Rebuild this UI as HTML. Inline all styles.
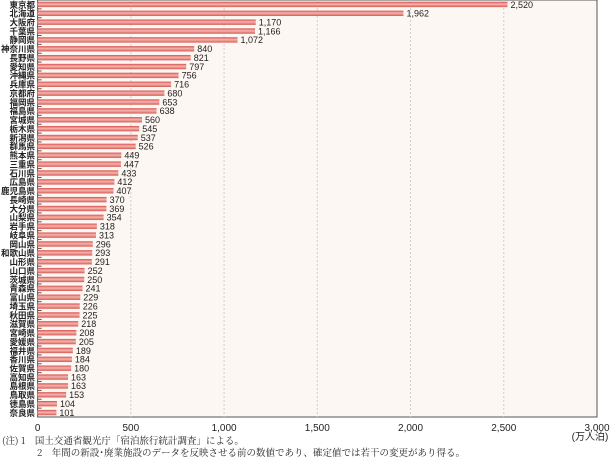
<!DOCTYPE html>
<html><head><meta charset="utf-8"><style>
body{margin:0;background:#fff;width:615px;height:460px;overflow:hidden;font-family:"Liberation Sans","Noto Sans CJK JP",sans-serif}
svg text{font-family:"Liberation Sans","Noto Sans CJK JP",sans-serif}
</style></head><body>
<svg id="chart" width="615" height="460" xmlns="http://www.w3.org/2000/svg">
<defs><linearGradient id="bg" x1="0" y1="0" x2="0" y2="1"><stop offset="0" stop-color="#d9504f"/><stop offset="0.45" stop-color="#f4b5ae"/><stop offset="1" stop-color="#d65a55"/></linearGradient></defs>
<rect x="37.6" y="0" width="559.4" height="417" fill="#fdf7f3" stroke="#555" stroke-width="1"/>
<g id="grid"></g><g id="bars"></g><g id="labels"></g><g id="xticks"></g>
<text x="590" y="440" font-size="10" text-anchor="middle" fill="#222">(万人泊)</text>
<text x="2" y="444" font-size="9.5" fill="#222" style="font-family:'Noto Serif CJK JP','Noto Serif CJK SC',serif">(注) 1　国土交通省観光庁「宿泊旅行統計調査」による。</text>
<text x="37" y="456" font-size="9.5" fill="#222" style="font-family:'Noto Serif CJK JP','Noto Serif CJK SC',serif">2　年間の新設･廃業施設のデータを反映させる前の数値であり、確定値では若干の変更があり得る。</text>
</svg>
<script>
const categories=["東京都","北海道","大阪府","千葉県","静岡県","神奈川県","長野県","愛知県","沖縄県","兵庫県","京都府","福岡県","福島県","宮城県","栃木県","新潟県","群馬県","熊本県","三重県","石川県","広島県","鹿児島県","長崎県","大分県","山梨県","岩手県","岐阜県","岡山県","和歌山県","山形県","山口県","茨城県","青森県","富山県","埼玉県","秋田県","滋賀県","宮崎県","愛媛県","福井県","香川県","佐賀県","高知県","島根県","鳥取県","徳島県","奈良県"];
const values=[2520,1962,1170,1166,1072,840,821,797,756,716,680,653,638,560,545,537,526,449,447,433,412,407,370,369,354,318,313,296,293,291,252,250,241,229,226,225,218,208,205,189,184,180,163,163,153,104,101];
const tickValues=[0,500,1000,1500,2000,2500,3000];
const tickLabels=["0","500","1,000","1,500","2,000","2,500","3,000"];
const NS="http://www.w3.org/2000/svg";
const x0=37.6,x1=597,yTop=0,yBottom=417,maxV=3000;
const xs=v=>x0+(x1-x0)*v/maxV;
const rowH=(yBottom-yTop)/categories.length;
const ys=i=>yTop+rowH*(i+0.5);
const fmt=v=>v.toLocaleString("en-US");
function mk(t,a,p){const e=document.createElementNS(NS,t);for(const k in a)e.setAttribute(k,a[k]);p.appendChild(e);return e;}
const grid=document.getElementById("grid"),bars=document.getElementById("bars"),labels=document.getElementById("labels"),xt=document.getElementById("xticks");
tickValues.forEach((v,i)=>{
 if(v>0&&v<maxV){const l=mk("line",{x1:xs(v),x2:xs(v),y1:yTop,y2:yBottom,stroke:"#ccc","stroke-dasharray":"2,2"},grid);
 
 }
 const t=mk("text",{x:xs(v),y:431,"font-size":10,"text-anchor":"middle",fill:"#222"},xt);t.textContent=tickLabels[i];
 
 
});
categories.forEach((c,i)=>{
 const y=ys(i);
 const tk=mk("line",{x1:x0,x2:x0+4,y1:yTop+rowH*(i+1),y2:yTop+rowH*(i+1),stroke:"#555"},grid);
 
 
 const r=mk("rect",{x:x0,y:y-2.7,width:xs(values[i])-x0,height:5.4,fill:"url(#bg)"},bars);
 
 
 const v=mk("text",{x:xs(values[i])+3,y:y+3.3,"font-size":9,fill:"#222"},labels);v.textContent=fmt(values[i]);
 
 
 const n=mk("text",{x:35,y:y+3.3,"font-size":8.5,"font-weight":"bold","text-anchor":"end",fill:"#222"},labels);n.textContent=c;
 
 
});
</script>
</body></html>
